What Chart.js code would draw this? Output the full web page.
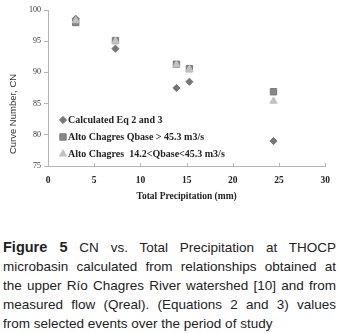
<!DOCTYPE html>
<html>
<head>
<meta charset="utf-8">
<script src="https://cdn.jsdelivr.net/npm/chart.js@4"></script>
<style>
  body { margin: 0; background: #fff; width: 339px; }
  #wrap { position: relative; width: 339px; height: 236px; }
  #caption {
    margin: 2px 0 0 0; padding: 0 3px 0 3px;
    font-family: "Liberation Sans", Arial, sans-serif; font-size: 13.5px;
    line-height: 19px; color: #222;
  }
  #caption div { text-align: justify; text-align-last: justify; white-space: nowrap; }
  #caption div.last { text-align-last: left; }
  #caption b { font-size: 14.5px; }
</style>
</head>
<body>
<div id="wrap"><canvas id="scatterChart"></canvas></div>
<div id="caption">
  <div><b>Figure 5</b> CN vs. Total Precipitation at THOCP</div>
  <div>microbasin calculated from relationships obtained at</div>
  <div>the upper Río Chagres River watershed [10] and from</div>
  <div>measured flow (Qreal). (Equations 2 and 3) values</div>
  <div class="last">from selected events over the period of study</div>
</div>
<script>
var precip = [3.0, 7.3, 13.9, 15.3, 24.4];
var cnCalculated = [98.6, 93.8, 87.5, 88.5, 79.0];
var cnHighFlow = [98.0, 95.1, 91.3, 90.6, 86.9];
var cnMidFlow = [98.3, 95.0, 91.2, 90.5, 85.4];
var seriesLabels = ['Calculated Eq 2 and 3', 'Alto Chagres Qbase > 45.3 m3/s', 'Alto Chagres  14.2<Qbase<45.3 m3/s'];
var xTicks = [0, 5, 10, 15, 20, 25, 30];
var yTicks = [75, 80, 85, 90, 95, 100];

function toPoints(ys) {
  return precip.map(function (x, i) { return { x: x, y: ys[i] }; });
}

// legend inside the plot, small inward x ticks, and the y title (sits low in the original)
var innerLegend = {
  id: 'innerLegend',
  afterDraw: function (chart) {
    var ctx = chart.ctx;
    var area = chart.chartArea;
    var xs = chart.scales.x;
    ctx.save();
    ctx.strokeStyle = '#b5b5b5';
    ctx.lineWidth = 1;
    xTicks.forEach(function (t) {
      var px = Math.round(xs.getPixelForValue(t)) + 0.5;
      ctx.beginPath();
      ctx.moveTo(px, area.bottom);
      ctx.lineTo(px, area.bottom - 3);
      ctx.stroke();
    });
    [0, 1, 2].forEach(function (i, k) {
      var ds = chart.data.datasets[i];
      var y = area.bottom - 46 + k * 17;
      var x = area.left + 15;
      ctx.fillStyle = ds.backgroundColor;
      ctx.strokeStyle = ds.borderColor;
      ctx.lineWidth = 1;
      Chart.helpers.drawPoint(ctx, { pointStyle: ds.pointStyle, radius: ds.pointRadius, rotation: 0, borderWidth: 1 }, x, y);
      ctx.fillStyle = '#222';
      ctx.font = 'bold 10px "Liberation Serif", serif';
      ctx.textBaseline = 'middle';
      ctx.textAlign = 'left';
      ctx.fillText(ds.label, x + 5, y + 0.5);
    });
    ctx.translate(13, area.top + 104);
    ctx.rotate(-Math.PI / 2);
    ctx.fillStyle = '#333';
    ctx.font = '9.5px "Liberation Sans", Arial, sans-serif';
    ctx.textAlign = 'center';
    ctx.textBaseline = 'middle';
    ctx.fillText('Curve Number, CN', 0, 0);
    ctx.restore();
  }
};

var ctx = document.getElementById('scatterChart').getContext('2d');
var cnChart = new Chart(ctx, {
  type: 'scatter',
  data: {
    datasets: [{
      label: seriesLabels[0],
      data: toPoints(cnCalculated),
      pointStyle: 'rectRot',
      pointRadius: 3.6,
      backgroundColor: '#777777',
      borderColor: '#777777',
      order: 2
    }, {
      label: seriesLabels[1],
      data: toPoints(cnHighFlow),
      pointStyle: 'rect',
      pointRadius: 4.5,
      backgroundColor: '#878787',
      borderColor: '#7a7a7a',
      order: 1
    }, {
      label: seriesLabels[2],
      data: toPoints(cnMidFlow),
      pointStyle: 'triangle',
      pointRadius: 4.2,
      backgroundColor: '#c2c2c2',
      borderColor: '#c2c2c2',
      order: 0
    }]
  },
  options: {
    responsive: true,
    maintainAspectRatio: false,
    animation: false,
    layout: { padding: { top: 10, right: 11, bottom: 30, left: 0 } },
    plugins: {
      legend: { display: false },
      tooltip: { enabled: false }
    },
    scales: {
      x: {
        type: 'linear',
        min: 0,
        max: 30,
        afterBuildTicks: function (s) { s.ticks = xTicks.map(function (v) { return { value: v }; }); },
        afterFit: function (s) { s.height = 40; },
        grid: { display: true, drawOnChartArea: false, drawTicks: false },
        border: { display: true, color: '#b5b5b5' },
        ticks: {
          padding: 9,
          color: '#222',
          font: { family: '"Liberation Serif", serif', size: 9.5, weight: 'bold' }
        },
        title: {
          display: true,
          text: 'Total Precipitation (mm)',
          color: '#222',
          padding: { top: 0, bottom: 4 },
          font: { family: '"Liberation Serif", serif', size: 9.5, weight: 'bold' }
        }
      },
      y: {
        min: 75,
        max: 100,
        afterBuildTicks: function (s) { s.ticks = yTicks.map(function (v) { return { value: v }; }); },
        afterFit: function (s) { s.width = 48; },
        grid: { display: true, drawOnChartArea: false, drawTicks: true, tickLength: 4, color: '#b5b5b5' },
        border: { display: true, color: '#b5b5b5' },
        ticks: {
          padding: 3,
          color: '#333',
          font: { family: '"Liberation Serif", serif', size: 8 }
        }
      }
    }
  },
  plugins: [innerLegend]
});
</script>
</body>
</html>
